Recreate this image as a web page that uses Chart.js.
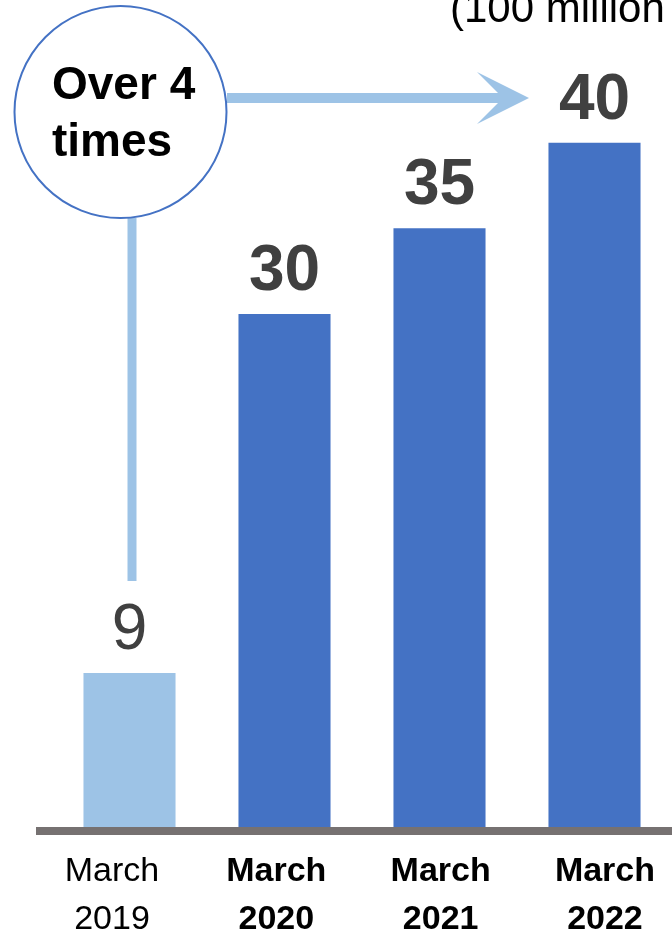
<!DOCTYPE html>
<html>
<head>
<meta charset="utf-8">
<script src="https://cdn.jsdelivr.net/npm/chart.js@4/dist/chart.umd.min.js"></script>
<style>
  html, body { margin: 0; padding: 0; background: #fff; }
  canvas { display: block; }
</style>
</head>
<body>
<canvas id="barChart" width="672" height="932"></canvas>
<script>
const categories = [["March", "2019"], ["March", "2020"], ["March", "2021"], ["March", "2022"]];
const values = [9, 30, 35, 40];
const barColors = ["#9DC3E6", "#4472C4", "#4472C4", "#4472C4"];
const unitLabel = "(100 million yen)";
const calloutLines = ["Over 4", "times"];

const FONT = "'Liberation Sans', Arial, sans-serif";
Chart.defaults.font.family = FONT;

// callout circle, arrows, value labels and the thick baseline
const overlay = {
  id: "overlay",
  afterDatasetsDraw(chart) {
    const c = chart.ctx;
    const area = chart.chartArea;
    const bars = chart.getDatasetMeta(0).data;
    c.save();

    c.fillStyle = "#767171";
    c.fillRect(36, area.bottom, chart.width - 36, 8);

    c.fillStyle = "#404040";
    c.textAlign = "center";
    c.textBaseline = "alphabetic";
    bars.forEach((bar, i) => {
      c.font = (i === 0 ? "" : "bold ") + "64px " + FONT;
      c.fillText(String(values[i]), bar.x, bar.y - 24);
    });

    c.fillStyle = "#9DC3E6";
    const lx = bars[0].x + 2.5;
    c.fillRect(lx - 4.5, 218, 9, 581 - 218);
    c.fillRect(227, 93, 505 - 227, 10);
    c.beginPath();
    c.moveTo(529, 98);
    c.lineTo(477, 72);
    c.lineTo(503, 98);
    c.lineTo(477, 124);
    c.closePath();
    c.fill();

    c.beginPath();
    c.arc(120.5, 112, 106, 0, Math.PI * 2);
    c.fillStyle = "#fff";
    c.fill();
    c.lineWidth = 2;
    c.strokeStyle = "#4472C4";
    c.stroke();

    c.fillStyle = "#000";
    c.textAlign = "left";
    c.font = "bold 46px " + FONT;
    c.fillText(calloutLines[0], 52, 99);
    c.fillText(calloutLines[1], 52, 156);

    c.font = "42px " + FONT;
    c.fillText(unitLabel, 450, 22);
    c.restore();
  }
};

new Chart(document.getElementById("barChart"), {
  type: "bar",
  data: {
    labels: categories,
    datasets: [{
      data: values,
      backgroundColor: barColors,
      borderWidth: 0,
      barPercentage: 0.594,
      categoryPercentage: 1
    }]
  },
  options: {
    responsive: false,
    animation: false,
    layout: { padding: { top: 6, left: 52, right: 0, bottom: 0 } },
    plugins: { legend: { display: false }, tooltip: { enabled: false } },
    scales: {
      y: { display: false, min: 0, max: 48 },
      x: { display: false },
      // the date labels sit a little wider apart than the bars, so they get their own axis
      xl: {
        type: "linear",
        position: "bottom",
        offset: false,
        min: -0.365,
        max: 3.408,
        grid: { display: false, drawTicks: false },
        border: { display: false },
        afterFit: axis => {
          axis.height = 105;
          axis.paddingLeft = 0;
          axis.paddingRight = 0;
        },
        ticks: {
          stepSize: 1,
          includeBounds: false,
          autoSkip: false,
          maxRotation: 0,
          color: "#000",
          padding: 21,
          callback: v => Number.isInteger(v) ? categories[v] : null,
          font: ctx => ({ size: 34, lineHeight: 1.41, weight: ctx.tick && ctx.tick.value === 0 ? "normal" : "bold" })
        }
      }
    }
  },
  plugins: [overlay]
});
</script>
</body>
</html>
